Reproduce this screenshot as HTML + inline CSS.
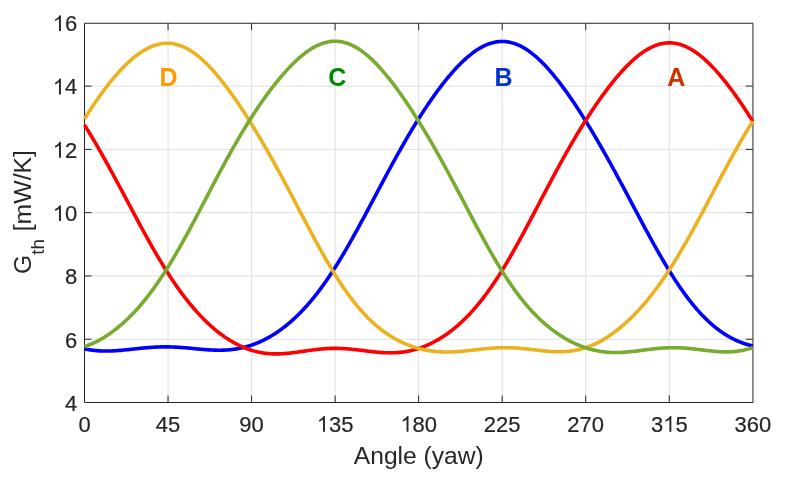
<!DOCTYPE html>
<html><head><meta charset="utf-8"><style>
html,body{margin:0;padding:0;background:#fff;width:787px;height:479px;overflow:hidden}
svg{display:block;will-change:transform;font-family:"Liberation Sans",sans-serif}
</style></head><body>
<svg width="787" height="479" viewBox="0 0 787 479">
<rect width="787" height="479" fill="#fff"/>
<g stroke="#DFDFDF" stroke-width="1"><line x1="168.04" y1="402.0" x2="168.04" y2="23.75"/><line x1="251.57" y1="402.0" x2="251.57" y2="23.75"/><line x1="335.11" y1="402.0" x2="335.11" y2="23.75"/><line x1="418.65" y1="402.0" x2="418.65" y2="23.75"/><line x1="502.19" y1="402.0" x2="502.19" y2="23.75"/><line x1="585.72" y1="402.0" x2="585.72" y2="23.75"/><line x1="669.26" y1="402.0" x2="669.26" y2="23.75"/><line x1="84.50" y1="339.22" x2="752.80" y2="339.22"/><line x1="84.50" y1="275.93" x2="752.80" y2="275.93"/><line x1="84.50" y1="212.65" x2="752.80" y2="212.65"/><line x1="84.50" y1="149.37" x2="752.80" y2="149.37"/><line x1="84.50" y1="86.08" x2="752.80" y2="86.08"/></g>
<g stroke="#262626" stroke-width="1" fill="none"><path d="M168.04,402.5 v-7 M168.04,23.25 v7 M251.57,402.5 v-7 M251.57,23.25 v7 M335.11,402.5 v-7 M335.11,23.25 v7 M418.65,402.5 v-7 M418.65,23.25 v7 M502.19,402.5 v-7 M502.19,23.25 v7 M585.72,402.5 v-7 M585.72,23.25 v7 M669.26,402.5 v-7 M669.26,23.25 v7 M84.5,339.22 h7 M752.80,339.22 h-7 M84.5,275.93 h7 M752.80,275.93 h-7 M84.5,212.65 h7 M752.80,212.65 h-7 M84.5,149.37 h7 M752.80,149.37 h-7 M84.5,86.08 h7 M752.80,86.08 h-7"/></g>
<g stroke="#262626" stroke-width="1" fill="none"><path d="M84.5,23.25 V402.5 H752.95 V23.25 Z"/></g>
<polyline fill="none" stroke="#0000FF" stroke-width="3.6" stroke-linejoin="round" points="84.50,348.83 85.43,349.03 86.36,349.23 87.28,349.41 88.21,349.57 89.14,349.73 90.07,349.88 91.00,350.02 91.93,350.15 92.85,350.27 93.78,350.38 94.71,350.48 95.64,350.58 96.57,350.66 97.49,350.73 98.42,350.80 99.35,350.86 100.28,350.91 101.21,350.95 102.14,350.98 103.06,351.01 103.99,351.03 104.92,351.04 105.85,351.04 106.78,351.04 107.70,351.03 108.63,351.02 109.56,350.99 110.49,350.97 111.42,350.93 112.35,350.90 113.27,350.85 114.20,350.80 115.13,350.75 116.06,350.69 116.99,350.63 117.91,350.56 118.84,350.49 119.77,350.41 120.70,350.34 121.63,350.26 122.56,350.17 123.48,350.08 124.41,349.99 125.34,349.90 126.27,349.81 127.20,349.71 128.13,349.62 129.05,349.52 129.98,349.42 130.91,349.32 131.84,349.22 132.77,349.12 133.69,349.02 134.62,348.92 135.55,348.82 136.48,348.72 137.41,348.62 138.34,348.52 139.26,348.42 140.19,348.33 141.12,348.23 142.05,348.14 142.98,348.05 143.90,347.96 144.83,347.88 145.76,347.79 146.69,347.71 147.62,347.64 148.55,347.56 149.47,347.49 150.40,347.42 151.33,347.36 152.26,347.30 153.19,347.24 154.11,347.19 155.04,347.14 155.97,347.09 156.90,347.05 157.83,347.01 158.76,346.98 159.68,346.95 160.61,346.92 161.54,346.90 162.47,346.89 163.40,346.88 164.32,346.87 165.25,346.87 166.18,346.87 167.11,346.88 168.04,346.89 168.97,346.90 169.89,346.92 170.82,346.95 171.75,346.97 172.68,347.01 173.61,347.04 174.53,347.08 175.46,347.13 176.39,347.17 177.32,347.22 178.25,347.28 179.18,347.34 180.10,347.40 181.03,347.46 181.96,347.53 182.89,347.60 183.82,347.67 184.75,347.75 185.67,347.83 186.60,347.91 187.53,347.99 188.46,348.07 189.39,348.16 190.31,348.24 191.24,348.33 192.17,348.42 193.10,348.50 194.03,348.59 194.96,348.68 195.88,348.77 196.81,348.86 197.74,348.94 198.67,349.03 199.60,349.12 200.52,349.20 201.45,349.28 202.38,349.36 203.31,349.44 204.24,349.52 205.17,349.59 206.09,349.66 207.02,349.73 207.95,349.79 208.88,349.85 209.81,349.91 210.73,349.96 211.66,350.01 212.59,350.05 213.52,350.09 214.45,350.12 215.38,350.15 216.30,350.17 217.23,350.19 218.16,350.20 219.09,350.20 220.02,350.20 220.94,350.19 221.87,350.17 222.80,350.15 223.73,350.12 224.66,350.08 225.59,350.04 226.51,349.99 227.44,349.93 228.37,349.86 229.30,349.78 230.23,349.69 231.15,349.60 232.08,349.50 233.01,349.39 233.94,349.27 234.87,349.14 235.80,349.00 236.72,348.85 237.65,348.69 238.58,348.52 239.51,348.35 240.44,348.16 241.36,347.96 242.29,347.75 243.22,347.54 244.15,347.31 245.08,347.07 246.01,346.83 246.93,346.57 247.86,346.30 248.79,346.02 249.72,345.73 250.65,345.43 251.57,345.12 252.50,344.80 253.43,344.47 254.36,344.12 255.29,343.77 256.22,343.40 257.14,343.03 258.07,342.64 259.00,342.24 259.93,341.83 260.86,341.41 261.79,340.98 262.71,340.54 263.64,340.09 264.57,339.62 265.50,339.15 266.43,338.66 267.35,338.16 268.28,337.65 269.21,337.13 270.14,336.60 271.07,336.05 272.00,335.49 272.92,334.93 273.85,334.35 274.78,333.76 275.71,333.15 276.64,332.54 277.56,331.91 278.49,331.27 279.42,330.62 280.35,329.96 281.28,329.28 282.21,328.60 283.13,327.90 284.06,327.19 284.99,326.46 285.92,325.73 286.85,324.98 287.77,324.22 288.70,323.44 289.63,322.66 290.56,321.86 291.49,321.04 292.42,320.22 293.34,319.38 294.27,318.53 295.20,317.67 296.13,316.79 297.06,315.90 297.98,314.99 298.91,314.08 299.84,313.14 300.77,312.20 301.70,311.24 302.63,310.27 303.55,309.28 304.48,308.28 305.41,307.27 306.34,306.24 307.27,305.20 308.19,304.15 309.12,303.08 310.05,301.99 310.98,300.90 311.91,299.79 312.84,298.66 313.76,297.52 314.69,296.37 315.62,295.20 316.55,294.02 317.48,292.82 318.40,291.61 319.33,290.38 320.26,289.14 321.19,287.89 322.12,286.62 323.05,285.34 323.97,284.05 324.90,282.74 325.83,281.42 326.76,280.08 327.69,278.73 328.62,277.36 329.54,275.99 330.47,274.60 331.40,273.19 332.33,271.78 333.26,270.35 334.18,268.90 335.11,267.45 336.04,265.98 336.97,264.50 337.90,263.01 338.83,261.50 339.75,259.99 340.68,258.46 341.61,256.92 342.54,255.37 343.47,253.81 344.39,252.24 345.32,250.66 346.25,249.07 347.18,247.46 348.11,245.85 349.04,244.23 349.96,242.60 350.89,240.96 351.82,239.32 352.75,237.66 353.68,236.00 354.60,234.33 355.53,232.65 356.46,230.97 357.39,229.27 358.32,227.58 359.25,225.87 360.17,224.16 361.10,222.45 362.03,220.73 362.96,219.01 363.89,217.28 364.81,215.55 365.74,213.81 366.67,212.07 367.60,210.33 368.53,208.58 369.46,206.84 370.38,205.09 371.31,203.34 372.24,201.59 373.17,199.83 374.10,198.08 375.02,196.33 375.95,194.58 376.88,192.82 377.81,191.07 378.74,189.32 379.67,187.57 380.59,185.82 381.52,184.08 382.45,182.34 383.38,180.60 384.31,178.86 385.24,177.12 386.16,175.39 387.09,173.67 388.02,171.94 388.95,170.22 389.88,168.51 390.80,166.80 391.73,165.10 392.66,163.40 393.59,161.70 394.52,160.02 395.45,158.33 396.37,156.66 397.30,154.99 398.23,153.33 399.16,151.67 400.09,150.02 401.01,148.38 401.94,146.74 402.87,145.12 403.80,143.50 404.73,141.89 405.66,140.28 406.58,138.69 407.51,137.10 408.44,135.52 409.37,133.95 410.30,132.39 411.22,130.83 412.15,129.29 413.08,127.75 414.01,126.23 414.94,124.71 415.87,123.20 416.79,121.70 417.72,120.22 418.65,118.74 419.58,117.27 420.51,115.81 421.43,114.36 422.36,112.92 423.29,111.49 424.22,110.07 425.15,108.66 426.08,107.26 427.00,105.87 427.93,104.49 428.86,103.12 429.79,101.76 430.72,100.42 431.64,99.08 432.57,97.76 433.50,96.44 434.43,95.14 435.36,93.85 436.29,92.57 437.21,91.30 438.14,90.04 439.07,88.80 440.00,87.56 440.93,86.34 441.85,85.13 442.78,83.93 443.71,82.75 444.64,81.58 445.57,80.42 446.50,79.27 447.42,78.14 448.35,77.02 449.28,75.91 450.21,74.82 451.14,73.73 452.06,72.67 452.99,71.62 453.92,70.58 454.85,69.55 455.78,68.54 456.71,67.55 457.63,66.57 458.56,65.61 459.49,64.66 460.42,63.72 461.35,62.81 462.28,61.90 463.20,61.02 464.13,60.15 465.06,59.30 465.99,58.46 466.92,57.65 467.84,56.84 468.77,56.06 469.70,55.30 470.63,54.55 471.56,53.82 472.49,53.11 473.41,52.42 474.34,51.75 475.27,51.10 476.20,50.46 477.13,49.85 478.05,49.26 478.98,48.68 479.91,48.13 480.84,47.60 481.77,47.09 482.70,46.59 483.62,46.13 484.55,45.68 485.48,45.25 486.41,44.85 487.34,44.46 488.26,44.10 489.19,43.77 490.12,43.45 491.05,43.16 491.98,42.89 492.91,42.64 493.83,42.41 494.76,42.21 495.69,42.04 496.62,41.88 497.55,41.75 498.47,41.64 499.40,41.56 500.33,41.50 501.26,41.46 502.19,41.45 503.12,41.46 504.04,41.49 504.97,41.55 505.90,41.63 506.83,41.74 507.76,41.87 508.68,42.02 509.61,42.20 510.54,42.40 511.47,42.63 512.40,42.88 513.33,43.15 514.25,43.44 515.18,43.76 516.11,44.11 517.04,44.47 517.97,44.86 518.89,45.27 519.82,45.70 520.75,46.16 521.68,46.64 522.61,47.14 523.54,47.66 524.46,48.21 525.39,48.78 526.32,49.36 527.25,49.97 528.18,50.61 529.11,51.26 530.03,51.93 530.96,52.62 531.89,53.34 532.82,54.07 533.75,54.82 534.67,55.59 535.60,56.39 536.53,57.20 537.46,58.03 538.39,58.87 539.32,59.74 540.24,60.62 541.17,61.53 542.10,62.45 543.03,63.38 543.96,64.34 544.88,65.31 545.81,66.29 546.74,67.30 547.67,68.32 548.60,69.35 549.53,70.40 550.45,71.47 551.38,72.55 552.31,73.64 553.24,74.75 554.17,75.87 555.09,77.01 556.02,78.16 556.95,79.33 557.88,80.51 558.81,81.70 559.74,82.90 560.66,84.12 561.59,85.35 562.52,86.59 563.45,87.84 564.38,89.10 565.30,90.38 566.23,91.67 567.16,92.97 568.09,94.28 569.02,95.60 569.95,96.93 570.87,98.27 571.80,99.62 572.73,100.99 573.66,102.36 574.59,103.74 575.51,105.13 576.44,106.54 577.37,107.95 578.30,109.37 579.23,110.80 580.16,112.24 581.08,113.69 582.01,115.15 582.94,116.61 583.87,118.09 584.80,119.57 585.72,121.06 586.65,122.56 587.58,124.07 588.51,125.59 589.44,127.11 590.37,128.65 591.29,130.19 592.22,131.73 593.15,133.29 594.08,134.85 595.01,136.43 595.94,138.00 596.86,139.59 597.79,141.18 598.72,142.78 599.65,144.39 600.58,146.00 601.50,147.62 602.43,149.25 603.36,150.89 604.29,152.53 605.22,154.17 606.15,155.83 607.07,157.48 608.00,159.15 608.93,160.82 609.86,162.49 610.79,164.18 611.71,165.86 612.64,167.55 613.57,169.25 614.50,170.95 615.43,172.66 616.36,174.37 617.28,176.08 618.21,177.80 619.14,179.52 620.07,181.25 621.00,182.98 621.92,184.71 622.85,186.45 623.78,188.18 624.71,189.93 625.64,191.67 626.57,193.41 627.49,195.16 628.42,196.91 629.35,198.66 630.28,200.41 631.21,202.16 632.13,203.91 633.06,205.66 633.99,207.41 634.92,209.17 635.85,210.92 636.78,212.67 637.70,214.41 638.63,216.16 639.56,217.90 640.49,219.65 641.42,221.38 642.34,223.12 643.27,224.85 644.20,226.58 645.13,228.31 646.06,230.03 646.99,231.75 647.91,233.46 648.84,235.16 649.77,236.87 650.70,238.56 651.63,240.25 652.55,241.93 653.48,243.61 654.41,245.28 655.34,246.94 656.27,248.59 657.20,250.23 658.12,251.87 659.05,253.50 659.98,255.12 660.91,256.72 661.84,258.32 662.77,259.91 663.69,261.49 664.62,263.06 665.55,264.62 666.48,266.16 667.41,267.70 668.33,269.22 669.26,270.73 670.19,272.23 671.12,273.72 672.05,275.19 672.98,276.66 673.90,278.10 674.83,279.54 675.76,280.96 676.69,282.37 677.62,283.76 678.54,285.14 679.47,286.51 680.40,287.86 681.33,289.20 682.26,290.52 683.19,291.82 684.11,293.12 685.04,294.39 685.97,295.65 686.90,296.90 687.83,298.13 688.75,299.34 689.68,300.54 690.61,301.73 691.54,302.89 692.47,304.04 693.40,305.18 694.32,306.30 695.25,307.40 696.18,308.49 697.11,309.56 698.04,310.61 698.96,311.65 699.89,312.67 700.82,313.68 701.75,314.67 702.68,315.64 703.61,316.60 704.53,317.54 705.46,318.47 706.39,319.38 707.32,320.27 708.25,321.15 709.17,322.01 710.10,322.85 711.03,323.68 711.96,324.49 712.89,325.29 713.82,326.07 714.74,326.84 715.67,327.59 716.60,328.32 717.53,329.04 718.46,329.74 719.38,330.43 720.31,331.10 721.24,331.76 722.17,332.41 723.10,333.03 724.03,333.65 724.95,334.25 725.88,334.83 726.81,335.40 727.74,335.96 728.67,336.50 729.60,337.02 730.52,337.54 731.45,338.04 732.38,338.52 733.31,338.99 734.24,339.45 735.16,339.89 736.09,340.32 737.02,340.74 737.95,341.15 738.88,341.54 739.81,341.92 740.73,342.28 741.66,342.64 742.59,342.98 743.52,343.30 744.45,343.62 745.37,343.92 746.30,344.22 747.23,344.50 748.16,344.77 749.09,345.02 750.02,345.27 750.94,345.50 751.87,345.73 752.80,345.94"/><polyline fill="none" stroke="#FF0000" stroke-width="3.6" stroke-linejoin="round" points="84.50,124.91 85.43,126.40 86.36,127.90 87.28,129.41 88.21,130.93 89.14,132.46 90.07,134.00 91.00,135.55 91.93,137.10 92.85,138.67 93.78,140.24 94.71,141.82 95.64,143.41 96.57,145.00 97.49,146.61 98.42,148.22 99.35,149.84 100.28,151.46 101.21,153.10 102.14,154.74 103.06,156.39 103.99,158.04 104.92,159.70 105.85,161.37 106.78,163.04 107.70,164.72 108.63,166.41 109.56,168.10 110.49,169.79 111.42,171.49 112.35,173.20 113.27,174.91 114.20,176.62 115.13,178.34 116.06,180.07 116.99,181.79 117.91,183.52 118.84,185.26 119.77,186.99 120.70,188.73 121.63,190.47 122.56,192.21 123.48,193.96 124.41,195.70 125.34,197.45 126.27,199.20 127.20,200.94 128.13,202.69 129.05,204.44 129.98,206.19 130.91,207.93 131.84,209.68 132.77,211.42 133.69,213.16 134.62,214.90 135.55,216.64 136.48,218.37 137.41,220.10 138.34,221.83 139.26,223.55 140.19,225.27 141.12,226.99 142.05,228.70 142.98,230.40 143.90,232.10 144.83,233.79 145.76,235.48 146.69,237.16 147.62,238.83 148.55,240.50 149.47,242.16 150.40,243.81 151.33,245.45 152.26,247.08 153.19,248.71 154.11,250.33 155.04,251.94 155.97,253.53 156.90,255.12 157.83,256.70 158.76,258.27 159.68,259.83 160.61,261.37 161.54,262.91 162.47,264.44 163.40,265.95 164.32,267.45 165.25,268.94 166.18,270.42 167.11,271.89 168.04,273.34 168.97,274.79 169.89,276.22 170.82,277.63 171.75,279.04 172.68,280.43 173.61,281.81 174.53,283.17 175.46,284.52 176.39,285.86 177.32,287.19 178.25,288.50 179.18,289.80 180.10,291.08 181.03,292.35 181.96,293.61 182.89,294.86 183.82,296.09 184.75,297.30 185.67,298.50 186.60,299.69 187.53,300.87 188.46,302.03 189.39,303.17 190.31,304.31 191.24,305.43 192.17,306.53 193.10,307.63 194.03,308.70 194.96,309.77 195.88,310.82 196.81,311.86 197.74,312.88 198.67,313.89 199.60,314.89 200.52,315.87 201.45,316.84 202.38,317.80 203.31,318.74 204.24,319.67 205.17,320.59 206.09,321.49 207.02,322.38 207.95,323.26 208.88,324.12 209.81,324.98 210.73,325.81 211.66,326.64 212.59,327.45 213.52,328.25 214.45,329.04 215.38,329.81 216.30,330.58 217.23,331.33 218.16,332.06 219.09,332.79 220.02,333.50 220.94,334.20 221.87,334.89 222.80,335.56 223.73,336.22 224.66,336.87 225.59,337.51 226.51,338.13 227.44,338.74 228.37,339.34 229.30,339.93 230.23,340.51 231.15,341.07 232.08,341.62 233.01,342.16 233.94,342.68 234.87,343.20 235.80,343.70 236.72,344.19 237.65,344.66 238.58,345.13 239.51,345.58 240.44,346.02 241.36,346.44 242.29,346.86 243.22,347.26 244.15,347.65 245.08,348.03 246.01,348.39 246.93,348.75 247.86,349.09 248.79,349.42 249.72,349.73 250.65,350.04 251.57,350.33 252.50,350.61 253.43,350.88 254.36,351.13 255.29,351.38 256.22,351.61 257.14,351.83 258.07,352.04 259.00,352.23 259.93,352.42 260.86,352.59 261.79,352.75 262.71,352.90 263.64,353.04 264.57,353.17 265.50,353.29 266.43,353.40 267.35,353.49 268.28,353.58 269.21,353.65 270.14,353.72 271.07,353.77 272.00,353.82 272.92,353.85 273.85,353.88 274.78,353.89 275.71,353.90 276.64,353.90 277.56,353.89 278.49,353.87 279.42,353.85 280.35,353.81 281.28,353.77 282.21,353.72 283.13,353.66 284.06,353.60 284.99,353.53 285.92,353.45 286.85,353.37 287.77,353.28 288.70,353.19 289.63,353.09 290.56,352.99 291.49,352.88 292.42,352.77 293.34,352.66 294.27,352.54 295.20,352.42 296.13,352.29 297.06,352.16 297.98,352.03 298.91,351.90 299.84,351.77 300.77,351.64 301.70,351.50 302.63,351.37 303.55,351.23 304.48,351.10 305.41,350.96 306.34,350.83 307.27,350.69 308.19,350.56 309.12,350.43 310.05,350.30 310.98,350.17 311.91,350.05 312.84,349.93 313.76,349.81 314.69,349.70 315.62,349.58 316.55,349.48 317.48,349.37 318.40,349.27 319.33,349.18 320.26,349.08 321.19,349.00 322.12,348.92 323.05,348.84 323.97,348.77 324.90,348.70 325.83,348.64 326.76,348.59 327.69,348.54 328.62,348.49 329.54,348.45 330.47,348.42 331.40,348.40 332.33,348.37 333.26,348.36 334.18,348.35 335.11,348.35 336.04,348.35 336.97,348.36 337.90,348.38 338.83,348.40 339.75,348.43 340.68,348.46 341.61,348.50 342.54,348.54 343.47,348.59 344.39,348.64 345.32,348.70 346.25,348.77 347.18,348.83 348.11,348.91 349.04,348.99 349.96,349.07 350.89,349.15 351.82,349.24 352.75,349.34 353.68,349.43 354.60,349.53 355.53,349.64 356.46,349.74 357.39,349.85 358.32,349.96 359.25,350.07 360.17,350.18 361.10,350.30 362.03,350.41 362.96,350.53 363.89,350.64 364.81,350.76 365.74,350.88 366.67,350.99 367.60,351.11 368.53,351.22 369.46,351.33 370.38,351.44 371.31,351.55 372.24,351.65 373.17,351.76 374.10,351.86 375.02,351.95 375.95,352.05 376.88,352.14 377.81,352.22 378.74,352.30 379.67,352.38 380.59,352.45 381.52,352.52 382.45,352.58 383.38,352.63 384.31,352.68 385.24,352.72 386.16,352.76 387.09,352.78 388.02,352.81 388.95,352.82 389.88,352.83 390.80,352.83 391.73,352.82 392.66,352.80 393.59,352.78 394.52,352.74 395.45,352.70 396.37,352.65 397.30,352.59 398.23,352.52 399.16,352.45 400.09,352.36 401.01,352.26 401.94,352.15 402.87,352.04 403.80,351.91 404.73,351.77 405.66,351.63 406.58,351.47 407.51,351.30 408.44,351.13 409.37,350.94 410.30,350.74 411.22,350.53 412.15,350.31 413.08,350.08 414.01,349.84 414.94,349.59 415.87,349.32 416.79,349.05 417.72,348.76 418.65,348.47 419.58,348.16 420.51,347.84 421.43,347.51 422.36,347.17 423.29,346.82 424.22,346.46 425.15,346.08 426.08,345.69 427.00,345.30 427.93,344.89 428.86,344.47 429.79,344.04 430.72,343.59 431.64,343.14 432.57,342.67 433.50,342.20 434.43,341.71 435.36,341.21 436.29,340.69 437.21,340.17 438.14,339.63 439.07,339.09 440.00,338.53 440.93,337.95 441.85,337.37 442.78,336.78 443.71,336.17 444.64,335.55 445.57,334.92 446.50,334.27 447.42,333.61 448.35,332.94 449.28,332.26 450.21,331.57 451.14,330.86 452.06,330.14 452.99,329.41 453.92,328.66 454.85,327.90 455.78,327.13 456.71,326.35 457.63,325.55 458.56,324.74 459.49,323.91 460.42,323.07 461.35,322.22 462.28,321.35 463.20,320.47 464.13,319.58 465.06,318.67 465.99,317.74 466.92,316.81 467.84,315.86 468.77,314.89 469.70,313.91 470.63,312.91 471.56,311.90 472.49,310.88 473.41,309.84 474.34,308.79 475.27,307.72 476.20,306.63 477.13,305.53 478.05,304.42 478.98,303.29 479.91,302.15 480.84,300.99 481.77,299.81 482.70,298.62 483.62,297.42 484.55,296.20 485.48,294.96 486.41,293.71 487.34,292.45 488.26,291.17 489.19,289.87 490.12,288.56 491.05,287.24 491.98,285.90 492.91,284.54 493.83,283.18 494.76,281.79 495.69,280.40 496.62,278.98 497.55,277.56 498.47,276.12 499.40,274.67 500.33,273.20 501.26,271.72 502.19,270.23 503.12,268.72 504.04,267.20 504.97,265.67 505.90,264.13 506.83,262.57 507.76,261.00 508.68,259.42 509.61,257.83 510.54,256.23 511.47,254.62 512.40,253.00 513.33,251.37 514.25,249.72 515.18,248.07 516.11,246.41 517.04,244.74 517.97,243.07 518.89,241.38 519.82,239.69 520.75,237.98 521.68,236.28 522.61,234.56 523.54,232.84 524.46,231.11 525.39,229.38 526.32,227.64 527.25,225.90 528.18,224.15 529.11,222.40 530.03,220.65 530.96,218.89 531.89,217.13 532.82,215.36 533.75,213.60 534.67,211.83 535.60,210.06 536.53,208.29 537.46,206.52 538.39,204.74 539.32,202.97 540.24,201.20 541.17,199.43 542.10,197.66 543.03,195.89 543.96,194.12 544.88,192.36 545.81,190.60 546.74,188.84 547.67,187.08 548.60,185.33 549.53,183.58 550.45,181.83 551.38,180.09 552.31,178.35 553.24,176.62 554.17,174.89 555.09,173.16 556.02,171.45 556.95,169.73 557.88,168.03 558.81,166.33 559.74,164.63 560.66,162.94 561.59,161.26 562.52,159.59 563.45,157.92 564.38,156.26 565.30,154.61 566.23,152.96 567.16,151.32 568.09,149.69 569.02,148.07 569.95,146.46 570.87,144.85 571.80,143.25 572.73,141.66 573.66,140.08 574.59,138.51 575.51,136.94 576.44,135.39 577.37,133.84 578.30,132.30 579.23,130.77 580.16,129.25 581.08,127.74 582.01,126.24 582.94,124.75 583.87,123.26 584.80,121.79 585.72,120.32 586.65,118.87 587.58,117.42 588.51,115.99 589.44,114.56 590.37,113.14 591.29,111.73 592.22,110.34 593.15,108.95 594.08,107.57 595.01,106.20 595.94,104.84 596.86,103.49 597.79,102.16 598.72,100.83 599.65,99.51 600.58,98.20 601.50,96.91 602.43,95.62 603.36,94.34 604.29,93.08 605.22,91.82 606.15,90.58 607.07,89.35 608.00,88.13 608.93,86.92 609.86,85.72 610.79,84.54 611.71,83.36 612.64,82.20 613.57,81.05 614.50,79.92 615.43,78.79 616.36,77.68 617.28,76.58 618.21,75.50 619.14,74.42 620.07,73.37 621.00,72.32 621.92,71.29 622.85,70.27 623.78,69.27 624.71,68.28 625.64,67.31 626.57,66.35 627.49,65.41 628.42,64.48 629.35,63.57 630.28,62.68 631.21,61.80 632.13,60.94 633.06,60.09 633.99,59.27 634.92,58.46 635.85,57.66 636.78,56.89 637.70,56.13 638.63,55.40 639.56,54.68 640.49,53.98 641.42,53.30 642.34,52.64 643.27,51.99 644.20,51.37 645.13,50.77 646.06,50.19 646.99,49.63 647.91,49.09 648.84,48.57 649.77,48.08 650.70,47.60 651.63,47.15 652.55,46.72 653.48,46.31 654.41,45.92 655.34,45.55 656.27,45.21 657.20,44.89 658.12,44.60 659.05,44.32 659.98,44.07 660.91,43.85 661.84,43.64 662.77,43.46 663.69,43.31 664.62,43.18 665.55,43.07 666.48,42.98 667.41,42.92 668.33,42.88 669.26,42.87 670.19,42.88 671.12,42.92 672.05,42.97 672.98,43.06 673.90,43.16 674.83,43.29 675.76,43.45 676.69,43.62 677.62,43.82 678.54,44.05 679.47,44.30 680.40,44.57 681.33,44.86 682.26,45.18 683.19,45.52 684.11,45.88 685.04,46.27 685.97,46.68 686.90,47.11 687.83,47.56 688.75,48.04 689.68,48.53 690.61,49.05 691.54,49.59 692.47,50.15 693.40,50.73 694.32,51.34 695.25,51.96 696.18,52.60 697.11,53.27 698.04,53.95 698.96,54.65 699.89,55.38 700.82,56.12 701.75,56.88 702.68,57.66 703.61,58.46 704.53,59.27 705.46,60.10 706.39,60.96 707.32,61.82 708.25,62.71 709.17,63.61 710.10,64.53 711.03,65.47 711.96,66.42 712.89,67.39 713.82,68.37 714.74,69.37 715.67,70.38 716.60,71.41 717.53,72.46 718.46,73.52 719.38,74.59 720.31,75.68 721.24,76.78 722.17,77.89 723.10,79.02 724.03,80.16 724.95,81.32 725.88,82.49 726.81,83.67 727.74,84.86 728.67,86.07 729.60,87.29 730.52,88.52 731.45,89.76 732.38,91.01 733.31,92.28 734.24,93.56 735.16,94.85 736.09,96.15 737.02,97.46 737.95,98.78 738.88,100.11 739.81,101.46 740.73,102.81 741.66,104.18 742.59,105.55 743.52,106.94 744.45,108.33 745.37,109.74 746.30,111.16 747.23,112.58 748.16,114.02 749.09,115.47 750.02,116.92 750.94,118.39 751.87,119.86 752.80,121.35"/><polyline fill="none" stroke="#EDB120" stroke-width="3.6" stroke-linejoin="round" points="84.50,118.87 85.43,117.39 86.36,115.92 87.28,114.47 88.21,113.02 89.14,111.58 90.07,110.16 91.00,108.75 91.93,107.34 92.85,105.95 93.78,104.58 94.71,103.21 95.64,101.85 96.57,100.51 97.49,99.18 98.42,97.86 99.35,96.55 100.28,95.25 101.21,93.97 102.14,92.70 103.06,91.44 103.99,90.20 104.92,88.96 105.85,87.74 106.78,86.53 107.70,85.34 108.63,84.16 109.56,82.99 110.49,81.83 111.42,80.69 112.35,79.56 113.27,78.45 114.20,77.35 115.13,76.26 116.06,75.19 116.99,74.13 117.91,73.09 118.84,72.06 119.77,71.04 120.70,70.04 121.63,69.06 122.56,68.09 123.48,67.13 124.41,66.19 125.34,65.27 126.27,64.36 127.20,63.47 128.13,62.60 129.05,61.74 129.98,60.90 130.91,60.07 131.84,59.26 132.77,58.47 133.69,57.70 134.62,56.95 135.55,56.21 136.48,55.49 137.41,54.79 138.34,54.11 139.26,53.44 140.19,52.80 141.12,52.17 142.05,51.57 142.98,50.98 143.90,50.41 144.83,49.87 145.76,49.34 146.69,48.83 147.62,48.35 148.55,47.88 149.47,47.44 150.40,47.02 151.33,46.62 152.26,46.24 153.19,45.88 154.11,45.55 155.04,45.23 155.97,44.94 156.90,44.67 157.83,44.43 158.76,44.21 159.68,44.01 160.61,43.83 161.54,43.67 162.47,43.54 163.40,43.43 164.32,43.35 165.25,43.29 166.18,43.25 167.11,43.24 168.04,43.25 168.97,43.28 169.89,43.34 170.82,43.42 171.75,43.52 172.68,43.65 173.61,43.81 174.53,43.98 175.46,44.18 176.39,44.40 177.32,44.65 178.25,44.92 179.18,45.21 180.10,45.53 181.03,45.87 181.96,46.24 182.89,46.62 183.82,47.03 184.75,47.46 185.67,47.92 186.60,48.40 187.53,48.90 188.46,49.42 189.39,49.96 190.31,50.53 191.24,51.12 192.17,51.73 193.10,52.36 194.03,53.01 194.96,53.68 195.88,54.37 196.81,55.09 197.74,55.82 198.67,56.57 199.60,57.35 200.52,58.14 201.45,58.95 202.38,59.78 203.31,60.63 204.24,61.49 205.17,62.38 206.09,63.28 207.02,64.20 207.95,65.14 208.88,66.09 209.81,67.07 210.73,68.05 211.66,69.06 212.59,70.08 213.52,71.11 214.45,72.16 215.38,73.23 216.30,74.31 217.23,75.40 218.16,76.51 219.09,77.64 220.02,78.77 220.94,79.92 221.87,81.09 222.80,82.27 223.73,83.46 224.66,84.66 225.59,85.87 226.51,87.10 227.44,88.34 228.37,89.59 229.30,90.85 230.23,92.13 231.15,93.41 232.08,94.71 233.01,96.02 233.94,97.33 234.87,98.66 235.80,100.00 236.72,101.35 237.65,102.71 238.58,104.08 239.51,105.46 240.44,106.84 241.36,108.24 242.29,109.65 243.22,111.06 244.15,112.49 245.08,113.92 246.01,115.37 246.93,116.82 247.86,118.28 248.79,119.75 249.72,121.23 250.65,122.71 251.57,124.21 252.50,125.71 253.43,127.22 254.36,128.74 255.29,130.27 256.22,131.81 257.14,133.35 258.07,134.90 259.00,136.46 259.93,138.03 260.86,139.60 261.79,141.19 262.71,142.78 263.64,144.37 264.57,145.98 265.50,147.59 266.43,149.21 267.35,150.83 268.28,152.47 269.21,154.11 270.14,155.75 271.07,157.41 272.00,159.07 272.92,160.73 273.85,162.41 274.78,164.09 275.71,165.77 276.64,167.46 277.56,169.16 278.49,170.86 279.42,172.57 280.35,174.28 281.28,176.00 282.21,177.72 283.13,179.45 284.06,181.18 284.99,182.92 285.92,184.66 286.85,186.40 287.77,188.15 288.70,189.90 289.63,191.65 290.56,193.41 291.49,195.17 292.42,196.93 293.34,198.69 294.27,200.46 295.20,202.23 296.13,203.99 297.06,205.76 297.98,207.53 298.91,209.30 299.84,211.07 300.77,212.84 301.70,214.61 302.63,216.38 303.55,218.14 304.48,219.91 305.41,221.67 306.34,223.43 307.27,225.18 308.19,226.94 309.12,228.68 310.05,230.43 310.98,232.17 311.91,233.91 312.84,235.64 313.76,237.36 314.69,239.08 315.62,240.80 316.55,242.50 317.48,244.20 318.40,245.89 319.33,247.58 320.26,249.25 321.19,250.92 322.12,252.58 323.05,254.23 323.97,255.87 324.90,257.50 325.83,259.12 326.76,260.73 327.69,262.33 328.62,263.92 329.54,265.49 330.47,267.06 331.40,268.61 332.33,270.15 333.26,271.67 334.18,273.19 335.11,274.69 336.04,276.17 336.97,277.65 337.90,279.10 338.83,280.55 339.75,281.98 340.68,283.39 341.61,284.79 342.54,286.18 343.47,287.55 344.39,288.90 345.32,290.24 346.25,291.57 347.18,292.87 348.11,294.16 349.04,295.44 349.96,296.70 350.89,297.94 351.82,299.17 352.75,300.38 353.68,301.57 354.60,302.75 355.53,303.91 356.46,305.05 357.39,306.18 358.32,307.29 359.25,308.39 360.17,309.46 361.10,310.53 362.03,311.57 362.96,312.60 363.89,313.61 364.81,314.60 365.74,315.58 366.67,316.55 367.60,317.49 368.53,318.42 369.46,319.34 370.38,320.24 371.31,321.12 372.24,321.99 373.17,322.84 374.10,323.67 375.02,324.50 375.95,325.30 376.88,326.09 377.81,326.87 378.74,327.63 379.67,328.37 380.59,329.11 381.52,329.82 382.45,330.53 383.38,331.22 384.31,331.89 385.24,332.55 386.16,333.20 387.09,333.84 388.02,334.46 388.95,335.07 389.88,335.66 390.80,336.25 391.73,336.82 392.66,337.37 393.59,337.92 394.52,338.45 395.45,338.97 396.37,339.48 397.30,339.98 398.23,340.46 399.16,340.94 400.09,341.40 401.01,341.85 401.94,342.29 402.87,342.72 403.80,343.13 404.73,343.54 405.66,343.94 406.58,344.32 407.51,344.69 408.44,345.06 409.37,345.41 410.30,345.76 411.22,346.09 412.15,346.41 413.08,346.72 414.01,347.03 414.94,347.32 415.87,347.60 416.79,347.88 417.72,348.14 418.65,348.40 419.58,348.64 420.51,348.88 421.43,349.10 422.36,349.32 423.29,349.53 424.22,349.73 425.15,349.92 426.08,350.10 427.00,350.27 427.93,350.43 428.86,350.59 429.79,350.73 430.72,350.87 431.64,351.00 432.57,351.12 433.50,351.23 434.43,351.34 435.36,351.43 436.29,351.52 437.21,351.60 438.14,351.67 439.07,351.73 440.00,351.79 440.93,351.84 441.85,351.88 442.78,351.91 443.71,351.94 444.64,351.96 445.57,351.97 446.50,351.98 447.42,351.98 448.35,351.97 449.28,351.96 450.21,351.94 451.14,351.92 452.06,351.89 452.99,351.85 453.92,351.81 454.85,351.76 455.78,351.71 456.71,351.65 457.63,351.59 458.56,351.52 459.49,351.45 460.42,351.38 461.35,351.30 462.28,351.22 463.20,351.13 464.13,351.05 465.06,350.96 465.99,350.86 466.92,350.77 467.84,350.67 468.77,350.57 469.70,350.47 470.63,350.36 471.56,350.26 472.49,350.16 473.41,350.05 474.34,349.94 475.27,349.84 476.20,349.73 477.13,349.63 478.05,349.52 478.98,349.42 479.91,349.32 480.84,349.21 481.77,349.11 482.70,349.02 483.62,348.92 484.55,348.83 485.48,348.73 486.41,348.64 487.34,348.56 488.26,348.48 489.19,348.40 490.12,348.32 491.05,348.25 491.98,348.18 492.91,348.11 493.83,348.05 494.76,348.00 495.69,347.94 496.62,347.90 497.55,347.85 498.47,347.82 499.40,347.78 500.33,347.75 501.26,347.73 502.19,347.71 503.12,347.70 504.04,347.69 504.97,347.69 505.90,347.69 506.83,347.70 507.76,347.71 508.68,347.73 509.61,347.75 510.54,347.78 511.47,347.81 512.40,347.85 513.33,347.89 514.25,347.94 515.18,347.99 516.11,348.05 517.04,348.11 517.97,348.17 518.89,348.24 519.82,348.32 520.75,348.39 521.68,348.47 522.61,348.56 523.54,348.65 524.46,348.74 525.39,348.83 526.32,348.93 527.25,349.03 528.18,349.13 529.11,349.23 530.03,349.33 530.96,349.44 531.89,349.54 532.82,349.65 533.75,349.76 534.67,349.87 535.60,349.98 536.53,350.08 537.46,350.19 538.39,350.30 539.32,350.40 540.24,350.51 541.17,350.61 542.10,350.71 543.03,350.80 543.96,350.90 544.88,350.99 545.81,351.07 546.74,351.16 547.67,351.23 548.60,351.31 549.53,351.38 550.45,351.44 551.38,351.50 552.31,351.56 553.24,351.60 554.17,351.65 555.09,351.68 556.02,351.71 556.95,351.73 557.88,351.74 558.81,351.75 559.74,351.74 560.66,351.73 561.59,351.71 562.52,351.69 563.45,351.65 564.38,351.60 565.30,351.55 566.23,351.48 567.16,351.41 568.09,351.32 569.02,351.23 569.95,351.12 570.87,351.01 571.80,350.88 572.73,350.74 573.66,350.60 574.59,350.44 575.51,350.26 576.44,350.08 577.37,349.89 578.30,349.68 579.23,349.47 580.16,349.24 581.08,349.00 582.01,348.74 582.94,348.48 583.87,348.20 584.80,347.91 585.72,347.61 586.65,347.29 587.58,346.97 588.51,346.63 589.44,346.28 590.37,345.91 591.29,345.54 592.22,345.15 593.15,344.75 594.08,344.34 595.01,343.91 595.94,343.47 596.86,343.02 597.79,342.56 598.72,342.08 599.65,341.59 600.58,341.09 601.50,340.58 602.43,340.06 603.36,339.52 604.29,338.97 605.22,338.41 606.15,337.83 607.07,337.25 608.00,336.65 608.93,336.04 609.86,335.42 610.79,334.78 611.71,334.13 612.64,333.48 613.57,332.80 614.50,332.12 615.43,331.43 616.36,330.72 617.28,330.00 618.21,329.27 619.14,328.52 620.07,327.77 621.00,327.00 621.92,326.22 622.85,325.43 623.78,324.63 624.71,323.81 625.64,322.99 626.57,322.15 627.49,321.29 628.42,320.43 629.35,319.55 630.28,318.67 631.21,317.77 632.13,316.85 633.06,315.93 633.99,314.99 634.92,314.04 635.85,313.08 636.78,312.11 637.70,311.12 638.63,310.12 639.56,309.11 640.49,308.08 641.42,307.05 642.34,306.00 643.27,304.94 644.20,303.86 645.13,302.77 646.06,301.67 646.99,300.56 647.91,299.43 648.84,298.29 649.77,297.14 650.70,295.97 651.63,294.79 652.55,293.60 653.48,292.40 654.41,291.18 655.34,289.95 656.27,288.71 657.20,287.45 658.12,286.18 659.05,284.89 659.98,283.60 660.91,282.29 661.84,280.97 662.77,279.63 663.69,278.28 664.62,276.92 665.55,275.55 666.48,274.16 667.41,272.76 668.33,271.35 669.26,269.92 670.19,268.49 671.12,267.04 672.05,265.58 672.98,264.10 673.90,262.62 674.83,261.12 675.76,259.61 676.69,258.09 677.62,256.56 678.54,255.02 679.47,253.46 680.40,251.90 681.33,250.32 682.26,248.74 683.19,247.14 684.11,245.54 685.04,243.92 685.97,242.30 686.90,240.67 687.83,239.03 688.75,237.38 689.68,235.72 690.61,234.05 691.54,232.38 692.47,230.69 693.40,229.00 694.32,227.31 695.25,225.61 696.18,223.90 697.11,222.18 698.04,220.46 698.96,218.74 699.89,217.01 700.82,215.27 701.75,213.53 702.68,211.79 703.61,210.05 704.53,208.30 705.46,206.54 706.39,204.79 707.32,203.03 708.25,201.28 709.17,199.52 710.10,197.76 711.03,195.99 711.96,194.23 712.89,192.47 713.82,190.71 714.74,188.95 715.67,187.19 716.60,185.43 717.53,183.68 718.46,181.93 719.38,180.17 720.31,178.43 721.24,176.68 722.17,174.94 723.10,173.20 724.03,171.47 724.95,169.74 725.88,168.01 726.81,166.29 727.74,164.58 728.67,162.87 729.60,161.16 730.52,159.47 731.45,157.77 732.38,156.09 733.31,154.41 734.24,152.74 735.16,151.08 736.09,149.42 737.02,147.77 737.95,146.13 738.88,144.50 739.81,142.88 740.73,141.26 741.66,139.65 742.59,138.06 743.52,136.47 744.45,134.89 745.37,133.32 746.30,131.76 747.23,130.21 748.16,128.67 749.09,127.14 750.02,125.62 750.94,124.10 751.87,122.60 752.80,121.12"/><polyline fill="none" stroke="#77AC30" stroke-width="3.6" stroke-linejoin="round" points="84.50,346.64 85.43,346.32 86.36,346.00 87.28,345.66 88.21,345.30 89.14,344.94 90.07,344.56 91.00,344.18 91.93,343.77 92.85,343.36 93.78,342.93 94.71,342.50 95.64,342.04 96.57,341.58 97.49,341.10 98.42,340.62 99.35,340.12 100.28,339.60 101.21,339.08 102.14,338.54 103.06,337.99 103.99,337.42 104.92,336.85 105.85,336.26 106.78,335.66 107.70,335.05 108.63,334.42 109.56,333.78 110.49,333.13 111.42,332.47 112.35,331.79 113.27,331.11 114.20,330.41 115.13,329.69 116.06,328.97 116.99,328.23 117.91,327.48 118.84,326.71 119.77,325.94 120.70,325.15 121.63,324.35 122.56,323.53 123.48,322.71 124.41,321.87 125.34,321.01 126.27,320.15 127.20,319.27 128.13,318.37 129.05,317.47 129.98,316.55 130.91,315.62 131.84,314.67 132.77,313.71 133.69,312.74 134.62,311.76 135.55,310.76 136.48,309.75 137.41,308.72 138.34,307.68 139.26,306.62 140.19,305.56 141.12,304.47 142.05,303.38 142.98,302.27 143.90,301.15 144.83,300.01 145.76,298.86 146.69,297.69 147.62,296.51 148.55,295.32 149.47,294.11 150.40,292.88 151.33,291.65 152.26,290.40 153.19,289.13 154.11,287.85 155.04,286.56 155.97,285.25 156.90,283.93 157.83,282.59 158.76,281.24 159.68,279.88 160.61,278.50 161.54,277.11 162.47,275.71 163.40,274.29 164.32,272.86 165.25,271.41 166.18,269.95 167.11,268.48 168.04,267.00 168.97,265.50 169.89,263.99 170.82,262.47 171.75,260.94 172.68,259.39 173.61,257.83 174.53,256.27 175.46,254.68 176.39,253.09 177.32,251.49 178.25,249.88 179.18,248.25 180.10,246.62 181.03,244.98 181.96,243.32 182.89,241.66 183.82,239.99 184.75,238.31 185.67,236.63 186.60,234.93 187.53,233.23 188.46,231.52 189.39,229.80 190.31,228.08 191.24,226.35 192.17,224.61 193.10,222.87 194.03,221.12 194.96,219.37 195.88,217.62 196.81,215.86 197.74,214.10 198.67,212.33 199.60,210.56 200.52,208.79 201.45,207.02 202.38,205.24 203.31,203.47 204.24,201.69 205.17,199.91 206.09,198.14 207.02,196.36 207.95,194.58 208.88,192.81 209.81,191.03 210.73,189.26 211.66,187.49 212.59,185.72 213.52,183.96 214.45,182.19 215.38,180.44 216.30,178.68 217.23,176.93 218.16,175.18 219.09,173.44 220.02,171.70 220.94,169.97 221.87,168.25 222.80,166.53 223.73,164.81 224.66,163.10 225.59,161.40 226.51,159.71 227.44,158.02 228.37,156.34 229.30,154.67 230.23,153.00 231.15,151.35 232.08,149.70 233.01,148.06 233.94,146.42 234.87,144.80 235.80,143.18 236.72,141.58 237.65,139.98 238.58,138.39 239.51,136.81 240.44,135.24 241.36,133.68 242.29,132.13 243.22,130.59 244.15,129.06 245.08,127.54 246.01,126.03 246.93,124.53 247.86,123.04 248.79,121.55 249.72,120.08 250.65,118.62 251.57,117.17 252.50,115.73 253.43,114.30 254.36,112.88 255.29,111.47 256.22,110.07 257.14,108.69 258.07,107.31 259.00,105.94 259.93,104.58 260.86,103.24 261.79,101.90 262.71,100.58 263.64,99.27 264.57,97.96 265.50,96.67 266.43,95.39 267.35,94.12 268.28,92.86 269.21,91.61 270.14,90.38 271.07,89.15 272.00,87.94 272.92,86.73 273.85,85.54 274.78,84.36 275.71,83.19 276.64,82.04 277.56,80.89 278.49,79.76 279.42,78.64 280.35,77.53 281.28,76.43 282.21,75.35 283.13,74.28 284.06,73.22 284.99,72.18 285.92,71.15 286.85,70.13 287.77,69.12 288.70,68.13 289.63,67.15 290.56,66.19 291.49,65.24 292.42,64.31 293.34,63.39 294.27,62.48 295.20,61.59 296.13,60.72 297.06,59.86 297.98,59.02 298.91,58.19 299.84,57.38 300.77,56.59 301.70,55.82 302.63,55.06 303.55,54.31 304.48,53.59 305.41,52.88 306.34,52.20 307.27,51.53 308.19,50.88 309.12,50.25 310.05,49.63 310.98,49.04 311.91,48.47 312.84,47.92 313.76,47.38 314.69,46.87 315.62,46.38 316.55,45.91 317.48,45.46 318.40,45.03 319.33,44.63 320.26,44.24 321.19,43.88 322.12,43.54 323.05,43.22 323.97,42.93 324.90,42.66 325.83,42.41 326.76,42.18 327.69,41.98 328.62,41.80 329.54,41.65 330.47,41.52 331.40,41.41 332.33,41.33 333.26,41.27 334.18,41.23 335.11,41.22 336.04,41.24 336.97,41.27 337.90,41.33 338.83,41.42 339.75,41.53 340.68,41.67 341.61,41.82 342.54,42.01 343.47,42.21 344.39,42.45 345.32,42.70 346.25,42.98 347.18,43.28 348.11,43.61 349.04,43.96 349.96,44.34 350.89,44.73 351.82,45.15 352.75,45.60 353.68,46.06 354.60,46.55 355.53,47.07 356.46,47.60 357.39,48.16 358.32,48.74 359.25,49.34 360.17,49.96 361.10,50.60 362.03,51.27 362.96,51.95 363.89,52.66 364.81,53.38 365.74,54.13 366.67,54.90 367.60,55.68 368.53,56.48 369.46,57.31 370.38,58.15 371.31,59.01 372.24,59.89 373.17,60.78 374.10,61.70 375.02,62.63 375.95,63.58 376.88,64.54 377.81,65.52 378.74,66.52 379.67,67.53 380.59,68.56 381.52,69.60 382.45,70.66 383.38,71.74 384.31,72.82 385.24,73.92 386.16,75.04 387.09,76.17 388.02,77.31 388.95,78.47 389.88,79.64 390.80,80.82 391.73,82.01 392.66,83.22 393.59,84.44 394.52,85.67 395.45,86.91 396.37,88.16 397.30,89.43 398.23,90.70 399.16,91.99 400.09,93.29 401.01,94.60 401.94,95.91 402.87,97.24 403.80,98.58 404.73,99.93 405.66,101.29 406.58,102.66 407.51,104.04 408.44,105.43 409.37,106.82 410.30,108.23 411.22,109.64 412.15,111.07 413.08,112.50 414.01,113.95 414.94,115.40 415.87,116.86 416.79,118.33 417.72,119.81 418.65,121.29 419.58,122.79 420.51,124.29 421.43,125.81 422.36,127.33 423.29,128.85 424.22,130.39 425.15,131.94 426.08,133.49 427.00,135.05 427.93,136.62 428.86,138.20 429.79,139.78 430.72,141.37 431.64,142.97 432.57,144.58 433.50,146.20 434.43,147.82 435.36,149.45 436.29,151.09 437.21,152.73 438.14,154.38 439.07,156.04 440.00,157.70 440.93,159.37 441.85,161.05 442.78,162.73 443.71,164.42 444.64,166.12 445.57,167.82 446.50,169.52 447.42,171.24 448.35,172.95 449.28,174.67 450.21,176.40 451.14,178.13 452.06,179.87 452.99,181.61 453.92,183.35 454.85,185.10 455.78,186.85 456.71,188.60 457.63,190.36 458.56,192.12 459.49,193.88 460.42,195.64 461.35,197.40 462.28,199.17 463.20,200.94 464.13,202.70 465.06,204.47 465.99,206.24 466.92,208.00 467.84,209.77 468.77,211.54 469.70,213.30 470.63,215.06 471.56,216.82 472.49,218.58 473.41,220.33 474.34,222.08 475.27,223.83 476.20,225.57 477.13,227.31 478.05,229.05 478.98,230.78 479.91,232.50 480.84,234.22 481.77,235.93 482.70,237.63 483.62,239.33 484.55,241.02 485.48,242.70 486.41,244.38 487.34,246.04 488.26,247.70 489.19,249.35 490.12,250.99 491.05,252.62 491.98,254.23 492.91,255.84 493.83,257.44 494.76,259.03 495.69,260.60 496.62,262.17 497.55,263.72 498.47,265.26 499.40,266.78 500.33,268.30 501.26,269.80 502.19,271.29 503.12,272.76 504.04,274.22 504.97,275.67 505.90,277.11 506.83,278.53 507.76,279.93 508.68,281.32 509.61,282.70 510.54,284.06 511.47,285.41 512.40,286.74 513.33,288.06 514.25,289.36 515.18,290.64 516.11,291.91 517.04,293.17 517.97,294.41 518.89,295.64 519.82,296.84 520.75,298.04 521.68,299.22 522.61,300.38 523.54,301.53 524.46,302.66 525.39,303.78 526.32,304.88 527.25,305.97 528.18,307.04 529.11,308.09 530.03,309.13 530.96,310.16 531.89,311.17 532.82,312.16 533.75,313.15 534.67,314.11 535.60,315.06 536.53,316.00 537.46,316.92 538.39,317.83 539.32,318.73 540.24,319.61 541.17,320.47 542.10,321.32 543.03,322.16 543.96,322.99 544.88,323.80 545.81,324.60 546.74,325.38 547.67,326.16 548.60,326.92 549.53,327.66 550.45,328.40 551.38,329.12 552.31,329.83 553.24,330.52 554.17,331.21 555.09,331.88 556.02,332.54 556.95,333.19 557.88,333.83 558.81,334.45 559.74,335.06 560.66,335.67 561.59,336.26 562.52,336.84 563.45,337.40 564.38,337.96 565.30,338.51 566.23,339.04 567.16,339.56 568.09,340.08 569.02,340.58 569.95,341.07 570.87,341.55 571.80,342.02 572.73,342.48 573.66,342.93 574.59,343.36 575.51,343.79 576.44,344.21 577.37,344.61 578.30,345.01 579.23,345.39 580.16,345.77 581.08,346.13 582.01,346.49 582.94,346.83 583.87,347.16 584.80,347.48 585.72,347.80 586.65,348.10 587.58,348.39 588.51,348.67 589.44,348.94 590.37,349.20 591.29,349.45 592.22,349.69 593.15,349.92 594.08,350.14 595.01,350.35 595.94,350.55 596.86,350.74 597.79,350.92 598.72,351.09 599.65,351.25 600.58,351.40 601.50,351.54 602.43,351.67 603.36,351.80 604.29,351.91 605.22,352.01 606.15,352.10 607.07,352.19 608.00,352.26 608.93,352.33 609.86,352.38 610.79,352.43 611.71,352.47 612.64,352.50 613.57,352.52 614.50,352.54 615.43,352.54 616.36,352.54 617.28,352.53 618.21,352.52 619.14,352.49 620.07,352.46 621.00,352.43 621.92,352.38 622.85,352.33 623.78,352.28 624.71,352.22 625.64,352.15 626.57,352.07 627.49,352.00 628.42,351.91 629.35,351.83 630.28,351.73 631.21,351.64 632.13,351.54 633.06,351.44 633.99,351.33 634.92,351.22 635.85,351.11 636.78,351.00 637.70,350.88 638.63,350.76 639.56,350.65 640.49,350.53 641.42,350.40 642.34,350.28 643.27,350.16 644.20,350.04 645.13,349.92 646.06,349.80 646.99,349.68 647.91,349.56 648.84,349.45 649.77,349.33 650.70,349.22 651.63,349.11 652.55,349.00 653.48,348.90 654.41,348.80 655.34,348.70 656.27,348.61 657.20,348.52 658.12,348.43 659.05,348.35 659.98,348.27 660.91,348.19 661.84,348.13 662.77,348.06 663.69,348.00 664.62,347.95 665.55,347.90 666.48,347.86 667.41,347.82 668.33,347.79 669.26,347.76 670.19,347.74 671.12,347.72 672.05,347.71 672.98,347.71 673.90,347.71 674.83,347.72 675.76,347.73 676.69,347.75 677.62,347.77 678.54,347.80 679.47,347.84 680.40,347.88 681.33,347.92 682.26,347.98 683.19,348.03 684.11,348.09 685.04,348.16 685.97,348.23 686.90,348.30 687.83,348.38 688.75,348.47 689.68,348.55 690.61,348.64 691.54,348.74 692.47,348.83 693.40,348.93 694.32,349.04 695.25,349.14 696.18,349.25 697.11,349.35 698.04,349.46 698.96,349.58 699.89,349.69 700.82,349.80 701.75,349.91 702.68,350.03 703.61,350.14 704.53,350.25 705.46,350.36 706.39,350.47 707.32,350.58 708.25,350.68 709.17,350.79 710.10,350.89 711.03,350.99 711.96,351.08 712.89,351.17 713.82,351.26 714.74,351.34 715.67,351.42 716.60,351.49 717.53,351.56 718.46,351.62 719.38,351.68 720.31,351.73 721.24,351.77 722.17,351.81 723.10,351.84 724.03,351.86 724.95,351.88 725.88,351.88 726.81,351.88 727.74,351.87 728.67,351.85 729.60,351.83 730.52,351.79 731.45,351.75 732.38,351.69 733.31,351.63 734.24,351.55 735.16,351.47 736.09,351.37 737.02,351.27 737.95,351.15 738.88,351.02 739.81,350.89 740.73,350.74 741.66,350.58 742.59,350.41 743.52,350.22 744.45,350.03 745.37,349.82 746.30,349.60 747.23,349.37 748.16,349.13 749.09,348.88 750.02,348.61 750.94,348.33 751.87,348.04 752.80,347.74"/>
<g fill="#262626" stroke="#262626" stroke-width="0.2" font-size="22"><text transform="translate(78.382,431.800) scale(1,1.015)">0</text><text transform="translate(155.802,431.800) scale(1,1.015)">4</text><text transform="translate(168.037,431.800) scale(1,1.015)">5</text><text transform="translate(239.340,431.800) scale(1,1.015)">9</text><text transform="translate(251.575,431.800) scale(1,1.015)">0</text><path transform="translate(316.759,431.800) scale(0.010742,-0.010742)" d="M763,0H583V1147Q518,1085 412,1023Q306,961 223,930V1104Q374,1175 487,1276Q600,1377 647,1472H763Z"/><text transform="translate(328.995,431.800) scale(1,1.015)">3</text><text transform="translate(341.230,431.800) scale(1,1.015)">5</text><path transform="translate(400.297,431.800) scale(0.010742,-0.010742)" d="M763,0H583V1147Q518,1085 412,1023Q306,961 223,930V1104Q374,1175 487,1276Q600,1377 647,1472H763Z"/><text transform="translate(412.532,431.800) scale(1,1.015)">8</text><text transform="translate(424.768,431.800) scale(1,1.015)">0</text><text transform="translate(483.834,431.800) scale(1,1.015)">2</text><text transform="translate(496.070,431.800) scale(1,1.015)">2</text><text transform="translate(508.305,431.800) scale(1,1.015)">5</text><text transform="translate(567.372,431.800) scale(1,1.015)">2</text><text transform="translate(579.607,431.800) scale(1,1.015)">7</text><text transform="translate(591.843,431.800) scale(1,1.015)">0</text><text transform="translate(650.909,431.800) scale(1,1.015)">3</text><path transform="translate(663.145,431.800) scale(0.010742,-0.010742)" d="M763,0H583V1147Q518,1085 412,1023Q306,961 223,930V1104Q374,1175 487,1276Q600,1377 647,1472H763Z"/><text transform="translate(675.380,431.800) scale(1,1.015)">5</text><text transform="translate(734.447,431.800) scale(1,1.015)">3</text><text transform="translate(746.682,431.800) scale(1,1.015)">6</text><text transform="translate(758.918,431.800) scale(1,1.015)">0</text><text transform="translate(64.965,410.800) scale(1,1.015)">4</text><text transform="translate(64.965,347.517) scale(1,1.015)">6</text><text transform="translate(64.965,284.233) scale(1,1.015)">8</text><path transform="translate(52.729,220.950) scale(0.010742,-0.010742)" d="M763,0H583V1147Q518,1085 412,1023Q306,961 223,930V1104Q374,1175 487,1276Q600,1377 647,1472H763Z"/><text transform="translate(64.965,220.950) scale(1,1.015)">0</text><path transform="translate(52.729,157.667) scale(0.010742,-0.010742)" d="M763,0H583V1147Q518,1085 412,1023Q306,961 223,930V1104Q374,1175 487,1276Q600,1377 647,1472H763Z"/><text transform="translate(64.965,157.667) scale(1,1.015)">2</text><path transform="translate(52.729,94.383) scale(0.010742,-0.010742)" d="M763,0H583V1147Q518,1085 412,1023Q306,961 223,930V1104Q374,1175 487,1276Q600,1377 647,1472H763Z"/><text transform="translate(64.965,94.383) scale(1,1.015)">4</text><path transform="translate(52.729,31.100) scale(0.010742,-0.010742)" d="M763,0H583V1147Q518,1085 412,1023Q306,961 223,930V1104Q374,1175 487,1276Q600,1377 647,1472H763Z"/><text transform="translate(64.965,31.100) scale(1,1.015)">6</text></g>
<text x="418.8" y="464.2" text-anchor="middle" fill="#262626" font-size="24.6">Angle (yaw)</text>
<g transform="translate(30.7,0) rotate(-90)" fill="#262626"><text x="-274.0" y="0" font-size="24.6">G</text><text x="-254.8" y="13.0" font-size="18.9">th</text><text x="-231.3" y="0" font-size="24.8">[mW/K]</text></g>
<text x="159.50" y="86.00" fill="#FF9900" font-weight="bold" font-size="25">D</text><text x="328.30" y="86.00" fill="#008800" font-weight="bold" font-size="25">C</text><text x="494.50" y="86.00" fill="#0033CC" font-weight="bold" font-size="25">B</text><text x="667.20" y="86.00" fill="#CC3300" font-weight="bold" font-size="25">A</text>
</svg>
</body></html>
